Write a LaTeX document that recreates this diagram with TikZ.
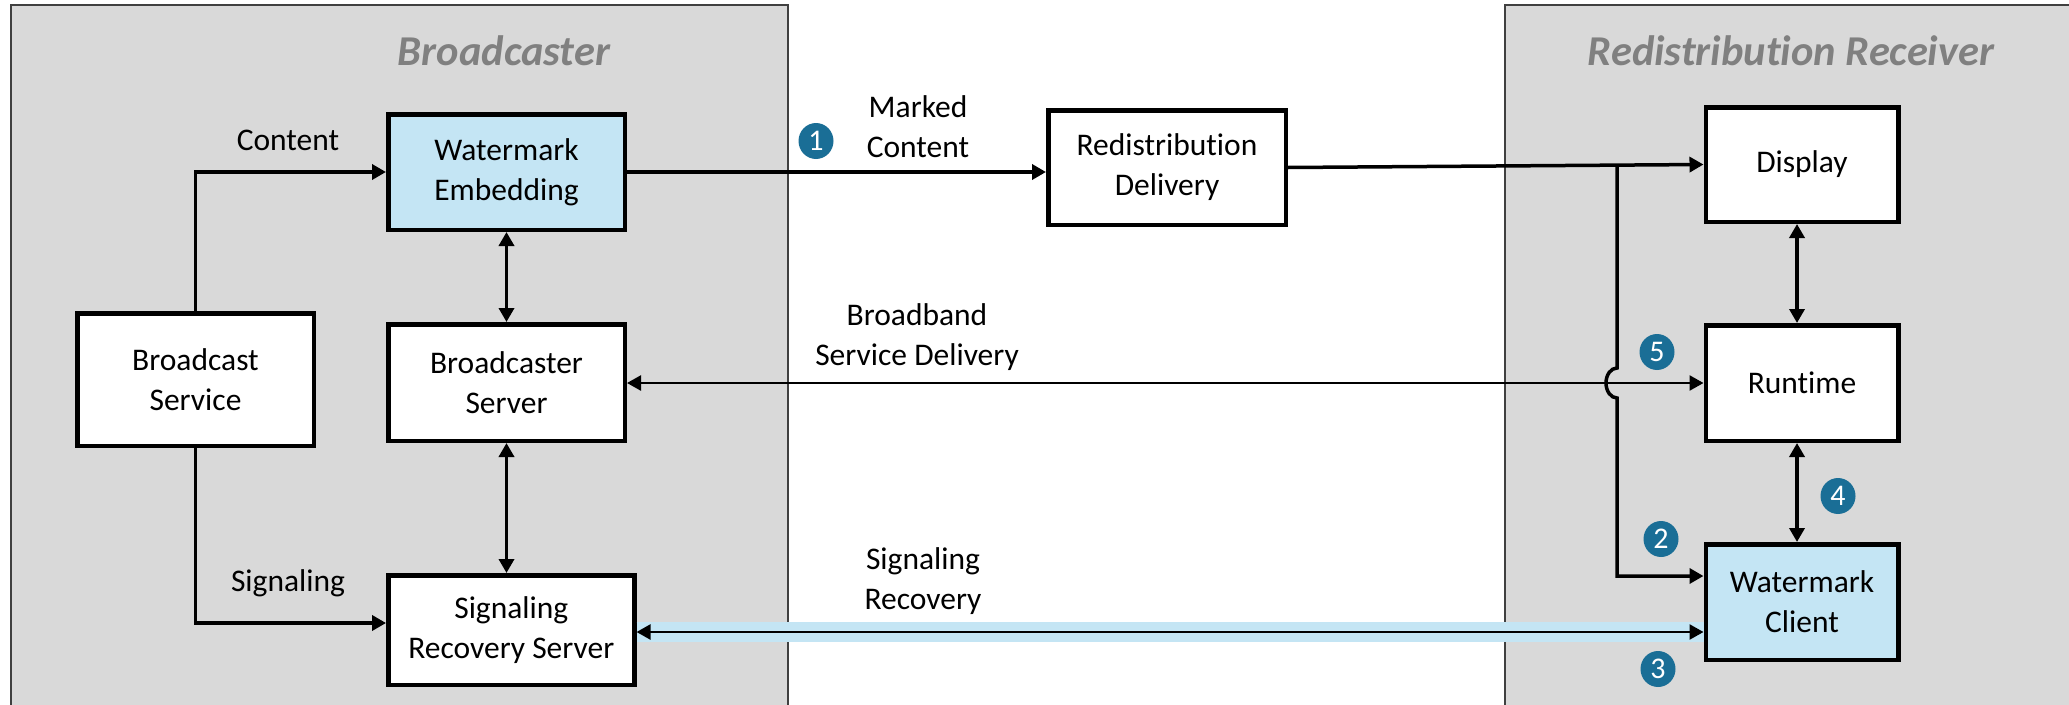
\documentclass[tikz,border=0pt]{standalone}
\usepackage{fontspec}
\setmainfont{Carlito}[Ligatures=NoCommon]
\usetikzlibrary{arrows.meta,calc,shapes.geometric}
\definecolor{panelgray}{HTML}{D9D9D9}
\definecolor{paneledge}{HTML}{404040}
\definecolor{wmblue}{HTML}{C4E5F4}
\definecolor{badgeblue}{HTML}{1A6E96}
\definecolor{titlegray}{HTML}{808080}
\newcommand{\dgbody}{\fontsize{31.5}{40}\selectfont}
\newcommand{\dgtitle}{\fontsize{42.5}{42.5}\selectfont\bfseries\itshape}
\newcommand{\dgbadge}{\fontsize{30}{30}\selectfont}
\begin{document}
\begin{tikzpicture}[x=1pt,y=-1pt,
  panel/.style={fill=panelgray,draw=paneledge,line width=2pt},
  box/.style={draw=black,line width=4.5pt,fill=white,inner sep=0pt,align=center,font=\dgbody},
  wide/.style={minimum width=236.5pt},
  narrow/.style={minimum width=192.5pt},
  lbl/.style={align=center,font=\dgbody,inner sep=0pt},
  ttl/.style={font=\dgtitle,text=titlegray,inner sep=0pt},
  badge/.style={ellipse,fill=badgeblue,text=white,minimum width=35pt,minimum height=36pt,inner sep=0pt,font=\dgbadge},
  tip/.tip={Triangle[length=14pt,width=15pt]},
  arr/.style={line width=3.5pt,-tip},
  darr/.style={line width=3.5pt,tip-tip},
  thindarr/.style={line width=2.5pt,tip-tip},
  band/.style={line width=20pt,draw=wmblue}
]
\path[use as bounding box] (0,0) rectangle (2069,704);
\begin{scope}
  \clip (0,0) rectangle (2069,704);
  \fill[white] (0,0) rectangle (2069,704);
  \draw[panel] (11,5) rectangle (788,720);
  \draw[panel] (1504.5,5) rectangle (2090,720);
\end{scope}

\node[ttl] (t1) at (504,51) {Broadcaster};
\node[ttl] (t2) at (1791,51) {Redistribution Receiver};

% boxes
\node[box,wide,fill=wmblue,minimum height=115.5pt] (WE) at (506.5,172) {Watermark\\Embedding};
\node[box,wide,minimum height=132.5pt] (BS) at (195.5,379.5) {Broadcast\\Service};
\node[box,wide,minimum height=116.5pt] (BSrv) at (506.5,382.5) {Broadcaster\\Server};
\node[box,minimum width=246pt,minimum height=109.5pt] (SRS) at (511.3,630) {Signaling\\Recovery Server};
\node[box,minimum width=237.5pt,minimum height=114.5pt] (RD) at (1167,167.5) {Redistribution\\Delivery};
\node[box,narrow,minimum height=114.5pt] (Disp) at (1802,164.5) {Display};
\node[box,narrow,minimum height=115.5pt] (RT) at (1802,383) {Runtime};
\node[box,narrow,fill=wmblue,minimum height=115.5pt] (WC) at (1802,602) {Watermark\\Client};

% labels
\node[lbl] (lc) at (288,140) {Content};
\node[lbl] (ls) at (288,583) {Signaling};
\node[lbl] (lm) at (918,127) {Marked\\Content};
\node[lbl] (lb) at (917,337) {Broadband\\Service Delivery};
\node[lbl] (lr) at (923,581) {Signaling\\Recovery};

% connectors
\draw[arr] (BS.north) |- (WE.west);
\draw[arr] (BS.south) |- ([yshift=7pt]SRS.west);
\draw[darr] (WE.south) -- (BSrv.north);
\draw[darr] (BSrv.south) -- (BSrv.south |- SRS.north);
\draw[arr] (WE.east) -- (WE.east -| RD.west);
\draw[arr] (RD.east) -- (Disp.west);
\draw[darr] ([xshift=-5pt]Disp.south) -- ([xshift=-5pt]RT.north);
\draw[darr] ([xshift=-5pt]RT.south) -- ([xshift=-5pt]WC.north);
\draw[thindarr] (RT.west -| BSrv.east) -- (RT.west);
\draw[band] ([yshift=-2pt]SRS.east) -- ([yshift=-2pt]SRS.east -| WC.west);
\draw[thindarr] ([yshift=-2pt]SRS.east) -- ([yshift=-2pt]SRS.east -| WC.west);
\coordinate (br) at (1617,165.7);
\draw[arr] (br) -- ([yshift=15pt]br |- RT.west)
  arc[start angle=90,end angle=270,x radius=11pt,y radius=15pt]
  -- ([yshift=26pt]br |- WC.west) -- ([yshift=26pt]WC.west);

% badges
\node[badge] (b1) at (816,141) {1};
\node[badge] (b2) at (1661,539) {2};
\node[badge] (b3) at (1658,669) {3};
\node[badge] (b4) at (1838,496) {4};
\node[badge] (b5) at (1657,352) {5};
\end{tikzpicture}
\end{document}
